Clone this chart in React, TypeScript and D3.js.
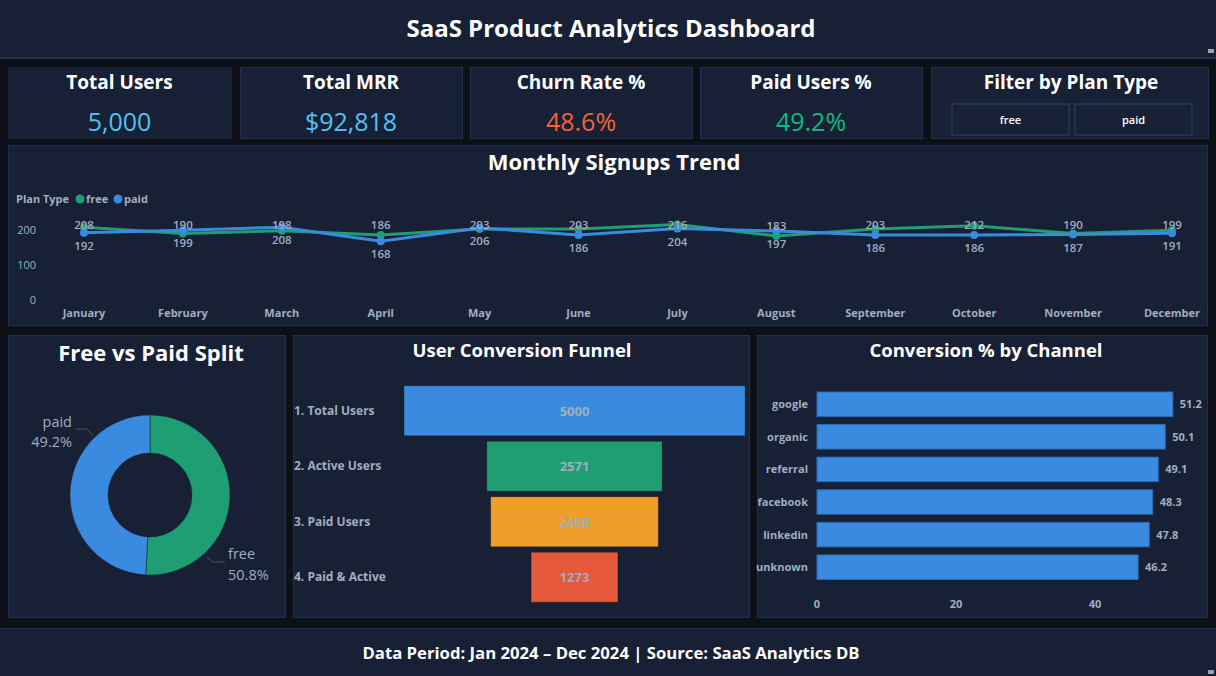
import React, { useEffect } from "react";
import * as d3 from "d3";

const months = ["January","February","March","April","May","June","July","August","September","October","November","December"];
const freeSignups = [208,190,198,186,203,203,216,183,203,212,190,199];
const paidSignups = [192,199,208,168,206,186,204,197,186,186,187,191];
const yTicks = [0,100,200];

const planLabels = ["free","paid"];
const planCounts = [2542,2458];

const funnelStages = ["1. Total Users","2. Active Users","3. Paid Users","4. Paid & Active"];
const funnelValues = [5000,2571,2458,1273];

const channels = ["google","organic","referral","facebook","linkedin","unknown"];
const channelConv = [51.2,50.1,49.1,48.3,47.8,46.2];
const convTicks = [0,20,40];

const kpiTitles = ["Total Users","Total MRR","Churn Rate %","Paid Users %"];
const kpiValues = ["5,000","$92,818","48.6%","49.2%"];

const C = {
  page: "#0d1117",
  panel: "#172035",
  border: "#1e3354",
  white: "#ffffff",
  gray: "#a0aec0",
  green: "#1f9e74",
  blue: "#3a8be0",
  orange: "#ee9f2a",
  red: "#e5583a",
};
const kpiColors = ["#4fc3f7","#4fc3f7","#f4623a","#10b981"];
const funnelColors = [C.blue, C.green, C.orange, C.red];
const FONT = "'Open Sans', 'Noto Sans', sans-serif";

export default function App() {
  useEffect(() => {
    document.body.style.margin = "0";
    document.body.style.background = C.page;
  }, []);

  // Line chart
  const x = d3.scalePoint<string>().domain(months).range([84, 1172]);
  const y = d3.scaleLinear().domain([0, 240]).range([300, 216]);
  const line = d3.line<number>().x((_, i) => x(months[i])!).y((d) => y(d));

  // Donut
  const pie = d3.pie<number>().sort(null).startAngle(0).endAngle(2 * Math.PI);
  const arcs = pie(planCounts);
  const arc = d3.arc<d3.PieArcDatum<number>>().innerRadius(42).outerRadius(80);
  const total = d3.sum(planCounts);
  const cx = 150, cy = 495;

  // Funnel
  const fx = d3.scaleLinear().domain([0, 5000]).range([0, 341]);
  const fy = d3.scaleBand<string>().domain(funnelStages).range([383, 605]).paddingInner(0.1).paddingOuter(0.05);
  const fcx = 574.5;

  // Bar chart
  const bx = d3.scaleLinear().domain([0, 54]).range([817, 817 + 54 * 6.95]);
  const by = d3.scaleBand<string>().domain(channels).range([387.9, 583.5]).paddingInner(0.25).paddingOuter(0.125);

  return (
    <svg width={1216} height={676} style={{ display: "block", background: C.page, fontFamily: FONT }}>
      {/* Header */}
      <rect x={0} y={0} width={1216} height={57} fill={C.panel} />
      <rect x={0} y={57} width={1216} height={2} fill={C.border} />
      <text x={611} y={37} textAnchor="middle" fill={C.white} fontSize={24} fontWeight={700}>SaaS Product Analytics Dashboard</text>
      <rect x={1208} y={49} width={6} height={4} fill="#9aa3ad" />

      {/* KPI cards */}
      {kpiTitles.map((t, i) => {
        const xs = [8, 240, 470, 700];
        const ws = [223, 222, 222, 222];
        return (
          <g key={t}>
            <rect x={xs[i] + 0.5} y={67.5} width={ws[i]} height={71} fill={C.panel} stroke={i === 0 ? C.panel : C.border} />
            {i === 0 && <rect x={8} y={101} width={223} height={1} fill="#1b2740" />}
            <text x={xs[i] + ws[i] / 2} y={89} textAnchor="middle" fill={C.white} fontSize={19} fontWeight={700}>{t}</text>
            <text x={xs[i] + ws[i] / 2} y={131} textAnchor="middle" fill={kpiColors[i]} fontSize={25}>{kpiValues[i]}</text>
          </g>
        );
      })}
      {/* Filter card */}
      <rect x={931.5} y={67.5} width={277} height={71} fill={C.panel} stroke={C.border} />
      <text x={1071} y={89} textAnchor="middle" fill={C.white} fontSize={19} fontWeight={700}>Filter by Plan Type</text>
      {planLabels.map((p, i) => (
        <g key={p}>
          <rect x={952 + i * 123} y={104} width={117} height={31} fill={C.panel} stroke={C.border} strokeWidth={2} />
          <text x={952 + i * 123 + 58.5} y={124} textAnchor="middle" fill={C.white} fontSize={11} fontWeight={600}>{p}</text>
        </g>
      ))}

      {/* Signups panel */}
      <rect x={8.5} y={145.5} width={1199} height={180} fill={C.panel} stroke={C.border} />
      <text x={614} y={170} textAnchor="middle" fill={C.white} fontSize={22} fontWeight={700}>Monthly Signups Trend</text>
      <text x={16} y={203} fill={C.gray} fontSize={11} fontWeight={700}>Plan Type</text>
      <circle cx={80} cy={199} r={4.5} fill={C.green} />
      <text x={86} y={203} fill={C.gray} fontSize={11} fontWeight={700}>free</text>
      <circle cx={118} cy={199} r={4.5} fill={C.blue} />
      <text x={124} y={203} fill={C.gray} fontSize={11} fontWeight={700}>paid</text>
      {yTicks.map((t) => (
        <text key={t} x={36} y={y(t) + 4} textAnchor="end" fill={C.gray} fontSize={11}>{t}</text>
      ))}
      {months.map((m) => (
        <text key={m} x={x(m)!} y={317} textAnchor="middle" fill={C.gray} fontSize={11} fontWeight={700}>{m}</text>
      ))}
      {[{ d: freeSignups, c: C.green }, { d: paidSignups, c: C.blue }].map((s, si) => (
        <g key={si}>
          <path d={line(s.d)!} fill="none" stroke={s.c} strokeWidth={3} />
          {s.d.map((v, i) => (
            <circle key={i} cx={x(months[i])!} cy={y(v)} r={4} fill={s.c} />
          ))}
        </g>
      ))}
      {freeSignups.map((v, i) => (
        <text key={"f" + i} x={x(months[i])!} y={Math.max(y(v) - 10, 225) + 4} textAnchor="middle" fill={C.gray} fontSize={11.5} fontWeight={600}>{v}</text>
      ))}
      {paidSignups.map((v, i) => (
        <text key={"p" + i} x={x(months[i])!} y={y(v) + 13 + 4} textAnchor="middle" fill={C.gray} fontSize={11.5} fontWeight={600}>{v}</text>
      ))}

      {/* Donut panel */}
      <rect x={8.5} y={335.5} width={277} height={282} fill={C.panel} stroke={C.border} />
      <text x={151} y={361} textAnchor="middle" fill={C.white} fontSize={22} fontWeight={700}>Free vs Paid Split</text>
      <g transform={`translate(${cx},${cy})`}>
        {arcs.map((a, i) => (
          <path key={i} d={arc(a)!} fill={i === 0 ? C.green : C.blue} stroke={C.panel} strokeWidth={0.5} />
        ))}
      </g>
      <polyline points={`${cx - 57},${cy - 59} ${cx - 63},${cy - 66} ${cx - 74},${cy - 66}`} fill="none" stroke="#555" strokeWidth={1} />
      <text x={72} y={427} textAnchor="end" fill={C.gray} fontSize={14.5}>{planLabels[1]}</text>
      <text x={72} y={447} textAnchor="end" fill={C.gray} fontSize={14.5}>{(planCounts[1] / total * 100).toFixed(1)}%</text>
      <polyline points={`${cx + 57},${cy + 62} ${cx + 63},${cy + 67} ${cx + 75},${cy + 67}`} fill="none" stroke="#555" strokeWidth={1} />
      <text x={228} y={559} fill={C.gray} fontSize={14.5}>{planLabels[0]}</text>
      <text x={228} y={580} fill={C.gray} fontSize={14.5}>{(planCounts[0] / total * 100).toFixed(1)}%</text>

      {/* Funnel panel */}
      <rect x={293.5} y={335.5} width={456} height={282} fill={C.panel} stroke={C.border} />
      <text x={522} y={357} textAnchor="middle" fill={C.white} fontSize={18.5} fontWeight={700}>User Conversion Funnel</text>
      {funnelStages.map((s, i) => {
        const w = fx(funnelValues[i]);
        const yy = fy(s)!;
        const h = fy.bandwidth();
        return (
          <g key={s}>
            <text x={294} y={yy + h / 2 + 4} fill={C.gray} fontSize={12} fontWeight={700}>{s}</text>
            <rect x={fcx - w / 2} y={yy} width={w} height={h} fill={funnelColors[i]} stroke="rgba(0,0,0,0.25)" strokeWidth={1} />
            <text x={fcx} y={yy + h / 2 + 5} textAnchor="middle" fill={C.gray} fontSize={13} fontWeight={700}>{funnelValues[i]}</text>
          </g>
        );
      })}

      {/* Channel bars panel */}
      <rect x={757.5} y={335.5} width={450} height={282} fill={C.panel} stroke={C.border} />
      <text x={986} y={357} textAnchor="middle" fill={C.white} fontSize={18.5} fontWeight={700}>Conversion % by Channel</text>
      {channels.map((c, i) => {
        const yy = by(c)!;
        const h = by.bandwidth();
        return (
          <g key={c}>
            <text x={808} y={yy + h / 2 + 4} textAnchor="end" fill={C.gray} fontSize={11} fontWeight={700}>{c}</text>
            <rect x={bx(0)} y={yy} width={bx(channelConv[i]) - bx(0)} height={h} fill={C.blue} stroke="#2a6cb5" strokeWidth={1} />
            <text x={bx(channelConv[i]) + 7} y={yy + h / 2 + 4} fill={C.gray} fontSize={11} fontWeight={700}>{channelConv[i]}</text>
          </g>
        );
      })}
      {convTicks.map((t) => (
        <text key={t} x={bx(t)} y={608} textAnchor="middle" fill={C.gray} fontSize={11} fontWeight={700}>{t}</text>
      ))}

      {/* Footer */}
      <rect x={0} y={628} width={1216} height={48} fill={C.panel} />
      <rect x={0} y={628} width={1216} height={1} fill={C.border} />
      <text x={611} y={659} textAnchor="middle" fill={C.white} fontSize={16.7} fontWeight={700}>Data Period: Jan 2024 – Dec 2024 | Source: SaaS Analytics DB</text>
      <rect x={1208} y={670} width={6} height={4} fill="#9aa3ad" />
    </svg>
  );
}
